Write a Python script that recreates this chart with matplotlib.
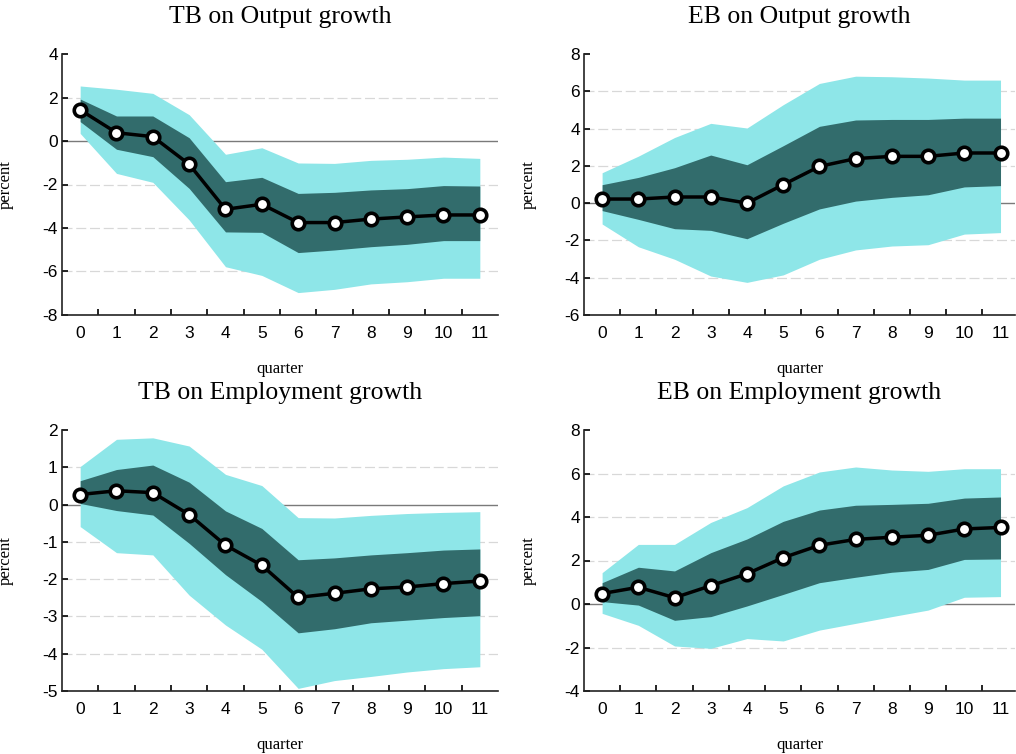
import numpy as np
import matplotlib
matplotlib.use("Agg")
import matplotlib.pyplot as plt

quarters = list(range(12))

titles = ["TB on Output growth", "EB on Output growth",
          "TB on Employment growth", "EB on Employment growth"]

# median responses
med_tb_out = [1.43, 0.38, 0.20, -1.07, -3.14, -2.91, -3.75, -3.75, -3.59, -3.49, -3.40, -3.40]
med_eb_out = [0.22, 0.22, 0.33, 0.33, 0.00, 0.99, 1.97, 2.39, 2.51, 2.51, 2.69, 2.69]
med_tb_emp = [0.27, 0.37, 0.32, -0.27, -1.09, -1.63, -2.49, -2.38, -2.26, -2.21, -2.12, -2.05]
med_eb_emp = [0.48, 0.77, 0.29, 0.84, 1.39, 2.13, 2.70, 2.97, 3.07, 3.16, 3.45, 3.52]

# inner band (dark)
in_hi_tb_out = [1.93, 1.15, 1.15, 0.15, -1.87, -1.67, -2.41, -2.36, -2.25, -2.19, -2.05, -2.07]
in_lo_tb_out = [0.89, -0.38, -0.72, -2.18, -4.18, -4.20, -5.13, -5.01, -4.86, -4.75, -4.58, -4.58]
in_hi_eb_out = [0.99, 1.38, 1.90, 2.58, 2.06, 3.08, 4.12, 4.46, 4.49, 4.49, 4.56, 4.56]
in_lo_eb_out = [-0.40, -0.87, -1.37, -1.46, -1.91, -1.08, -0.31, 0.11, 0.31, 0.45, 0.87, 0.94]
in_hi_tb_emp = [0.64, 0.94, 1.06, 0.60, -0.17, -0.64, -1.48, -1.43, -1.35, -1.29, -1.22, -1.19]
in_lo_tb_emp = [0.03, -0.16, -0.28, -1.04, -1.88, -2.60, -3.44, -3.33, -3.17, -3.10, -3.03, -2.98]
in_hi_eb_emp = [0.98, 1.69, 1.52, 2.36, 2.99, 3.80, 4.32, 4.54, 4.58, 4.63, 4.87, 4.92]
in_lo_eb_emp = [0.11, -0.05, -0.75, -0.58, -0.09, 0.44, 0.98, 1.23, 1.46, 1.59, 2.05, 2.07]

# outer band (light)
out_hi_tb_out = [2.53, 2.38, 2.19, 1.21, -0.61, -0.31, -1.01, -1.03, -0.89, -0.84, -0.74, -0.80]
out_lo_tb_out = [0.35, -1.49, -1.90, -3.63, -5.78, -6.18, -6.97, -6.82, -6.57, -6.47, -6.31, -6.31]
out_hi_eb_out = [1.63, 2.52, 3.52, 4.28, 4.03, 5.28, 6.42, 6.81, 6.78, 6.71, 6.60, 6.60]
out_lo_eb_out = [-1.12, -2.34, -3.01, -3.91, -4.25, -3.85, -3.01, -2.51, -2.30, -2.23, -1.66, -1.58]
out_hi_tb_emp = [1.02, 1.75, 1.79, 1.57, 0.81, 0.51, -0.35, -0.36, -0.29, -0.24, -0.21, -0.19]
out_lo_tb_emp = [-0.59, -1.29, -1.35, -2.43, -3.23, -3.88, -4.93, -4.72, -4.61, -4.49, -4.40, -4.35]
out_hi_eb_emp = [1.44, 2.74, 2.74, 3.75, 4.43, 5.43, 6.07, 6.30, 6.16, 6.10, 6.22, 6.22]
out_lo_eb_emp = [-0.43, -0.98, -1.93, -2.04, -1.59, -1.70, -1.20, -0.89, -0.58, -0.28, 0.31, 0.34]

ylims = [(-8, 4), (-6, 8), (-5, 2), (-4, 8)]
ysteps = [2, 2, 1, 2]

panels = [
    (med_tb_out, in_lo_tb_out, in_hi_tb_out, out_lo_tb_out, out_hi_tb_out),
    (med_eb_out, in_lo_eb_out, in_hi_eb_out, out_lo_eb_out, out_hi_eb_out),
    (med_tb_emp, in_lo_tb_emp, in_hi_tb_emp, out_lo_tb_emp, out_hi_tb_emp),
    (med_eb_emp, in_lo_eb_emp, in_hi_eb_emp, out_lo_eb_emp, out_hi_eb_emp),
]

LIGHT = "#8ee6e8"
DARK = "#326c6c"
SERIF = ["Liberation Serif", "DejaVu Serif"]
SANS = ["Liberation Sans", "DejaVu Sans"]

# axes rectangles in figure fraction (left, bottom, width, height)
rects = [
    (62 / 1016, 1 - 315 / 754, 436 / 1016, 261 / 754),
    (584 / 1016, 1 - 315 / 754, 431 / 1016, 261 / 754),
    (62 / 1016, 1 - 691 / 754, 436 / 1016, 261 / 754),
    (584 / 1016, 1 - 691 / 754, 431 / 1016, 261 / 754),
]

fig = plt.figure(figsize=(10.16, 7.54), dpi=100)

for i, (med, ilo, ihi, olo, ohi) in enumerate(panels):
    ax = fig.add_axes(rects[i])
    lo, hi = ylims[i]
    yt = np.arange(lo, hi + 0.01, ysteps[i])
    for v in yt:
        if v == 0:
            ax.axhline(0, color="#7a7a7a", lw=1.0, zorder=1)
        elif v not in (lo, hi):
            ax.axhline(v, color="#d8d8d8", lw=0.9, ls=(0, (8, 3)), zorder=0)
    ax.fill_between(quarters, olo, ohi, color=LIGHT, lw=0, zorder=2)
    ax.fill_between(quarters, ilo, ihi, color=DARK, lw=0, zorder=3)
    ax.plot(quarters, med, color="black", lw=2.5, marker="o", ms=9,
            mfc="white", mec="black", mew=2.6, zorder=4)

    ax.set_ylim(lo, hi)
    ax.set_xlim(-0.5, 11.5 if i % 2 == 0 else 11.4)
    ax.set_yticks(yt)
    ax.set_yticklabels([f"{int(v)}" for v in yt], family=SANS, fontsize=12.5)
    ax.set_xticks(quarters)
    ax.set_xticklabels([str(q) for q in quarters], family=SANS, fontsize=12.5)
    ax.set_xticks(np.arange(0.5, 11.5, 1.0), minor=True)
    ax.tick_params(axis="x", which="major", length=0, pad=8)
    ax.tick_params(axis="x", which="minor", direction="in", length=4, width=1.2)
    ax.tick_params(axis="y", direction="in", length=4, width=1.2, pad=3)
    for s in ("top", "right"):
        ax.spines[s].set_visible(False)
    for s in ("left", "bottom"):
        ax.spines[s].set_linewidth(1.2)
        ax.spines[s].set_color("#222222")

    ax.set_title(titles[i], family=SERIF, fontsize=18.5, pad=22)
    ax.set_ylabel("percent", family=SERIF, fontsize=12)
    ax.yaxis.set_label_coords(-0.11, 0.5)
    ax.set_xlabel("quarter", family=SERIF, fontsize=12)
    ax.xaxis.set_label_coords(0.5, -0.175)

fig.savefig("out.png", dpi=100)
